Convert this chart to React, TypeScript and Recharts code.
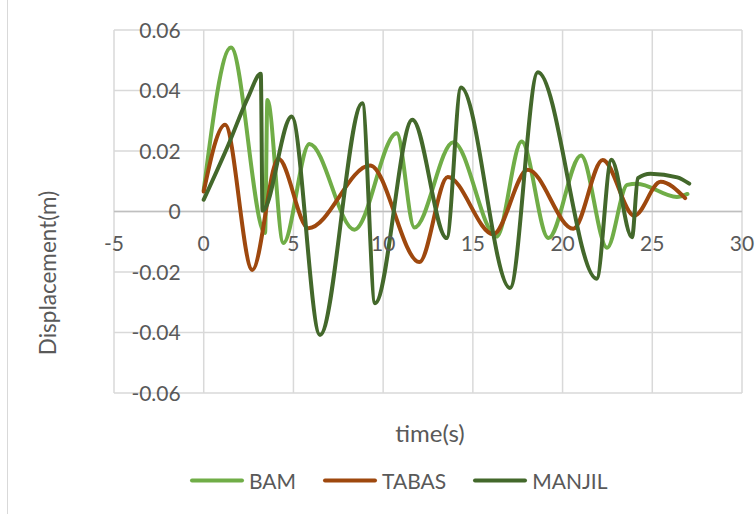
import React from "react";
import { CartesianGrid, Line, LineChart, ReferenceLine, XAxis, YAxis } from "recharts";

// values
const BAM_T = [0, 1.52, 3.42, 3.55, 4.44, 5.89, 8.4, 10.76, 11.74, 13.91, 16.33, 17.72, 19.21, 21.03, 22.48, 23.6, 24.14, 26.37, 26.96];
const BAM_V = [0.007, 0.0542, -0.0071, 0.0369, -0.0104, 0.0223, -0.006, 0.0259, -0.0053, 0.0229, -0.0083, 0.0231, -0.0088, 0.0185, -0.012, 0.0088, 0.0092, 0.0048, 0.0058];

const TABAS_T = [0, 1.19, 2.71, 4.16, 5.83, 9.27, 12.02, 13.6, 16.14, 18.06, 20.6, 22.24, 24.0, 25.46, 26.83];
const TABAS_V = [0.0066, 0.0287, -0.0193, 0.0174, -0.0055, 0.0152, -0.0167, 0.0114, -0.0075, 0.0138, -0.0057, 0.017, -0.0014, 0.0098, 0.0044];

const MANJIL_T = [0, 1.37, 2.49, 3.18, 3.28, 4.9, 6.48, 8.84, 9.55, 11.63, 13.54, 14.34, 17.07, 18.62, 21.9, 22.72, 23.87, 24.2, 24.9, 26.4, 27.06];
const MANJIL_V = [0.0039, 0.022, 0.038, 0.0455, 0.0003, 0.0314, -0.0408, 0.0358, -0.0303, 0.0303, -0.0088, 0.041, -0.0253, 0.046, -0.0222, 0.0171, -0.0085, 0.011, 0.0125, 0.0113, 0.0092];

const X_TICKS = [-5, 0, 5, 10, 15, 20, 25, 30];
const Y_TICKS = [-0.06, -0.04, -0.02, 0, 0.02, 0.04, 0.06];

const SERIES = [
  { name: "BAM", color: "#70AD47", t: BAM_T, v: BAM_V },
  { name: "TABAS", color: "#9E480E", t: TABAS_T, v: TABAS_V },
  { name: "MANJIL", color: "#43682B", t: MANJIL_T, v: MANJIL_V },
];

const W = 755;
const H = 514;
const M = { top: 30, right: 13, bottom: 120, left: 113 };
const PLOT_W = W - M.left - M.right - 1;
const PLOT_H = H - M.top - M.bottom - 1;
const ZERO_Y = M.top + PLOT_H / 2;
const AXIS_X = M.left + 1 + (PLOT_W * 5) / 35;

const FONT = "Lato, 'Open Sans', sans-serif";
const TEXT = "#595959";

function zip(t: number[], v: number[]) {
  return t.map((x, i) => ({ t: x, v: v[i] }));
}

function fmtY(v: number) {
  if (Math.abs(v) < 1e-9) return "0";
  return v.toFixed(2);
}

function XTick(props: any) {
  const { x, payload } = props;
  return (
    <text x={x} y={ZERO_Y + 39} textAnchor="middle" fill={TEXT} fontSize={21} fontFamily={FONT}>
      {payload.value}
    </text>
  );
}

function YTick(props: any) {
  const { y, payload } = props;
  return (
    <text x={AXIS_X - 23} y={y + 7.5} textAnchor="end" fill={TEXT} fontSize={21} fontFamily={FONT}>
      {fmtY(payload.value)}
    </text>
  );
}

export default function App() {
  return (
    <div style={{ position: "fixed", left: 0, top: 0, width: W, height: H, background: "#fff", fontFamily: FONT }}>
      <div style={{ position: "absolute", left: 7, top: 0, width: 1, height: H, background: "#D9D9D9" }} />
      <LineChart width={W} height={H} margin={M}>
        <CartesianGrid stroke="#D9D9D9" strokeWidth={1.5} />
        <XAxis
          type="number"
          dataKey="t"
          domain={[-5, 30]}
          ticks={X_TICKS}
          interval={0}
          allowDataOverflow
          height={1}
          axisLine={false}
          tickLine={false}
          tick={XTick}
        />
        <YAxis
          type="number"
          dataKey="v"
          domain={[-0.06, 0.06]}
          ticks={Y_TICKS}
          interval={0}
          allowDataOverflow
          width={1}
          axisLine={false}
          tickLine={false}
          tick={YTick}
        />
        <ReferenceLine y={0} stroke="#BFBFBF" strokeWidth={1.5} />
        {SERIES.map((s) => (
          <Line
            key={s.name}
            data={zip(s.t, s.v)}
            dataKey="v"
            name={s.name}
            type="monotone"
            stroke={s.color}
            strokeWidth={4}
            strokeLinecap="round"
            dot={false}
            isAnimationActive={false}
          />
        ))}
      </LineChart>

      <div
        style={{
          position: "absolute",
          left: 47,
          top: 273,
          transform: "translate(-50%, -50%) rotate(-90deg)",
          whiteSpace: "nowrap",
          fontSize: 22.5,
          color: TEXT,
        }}
      >
        Displacement(m)
      </div>
      <div
        style={{
          position: "absolute",
          left: 430,
          top: 432,
          transform: "translate(-50%, -50%)",
          whiteSpace: "nowrap",
          fontSize: 24,
          color: TEXT,
        }}
      >
        time(s)
      </div>

      <div
        style={{
          position: "absolute",
          left: 190,
          top: 480,
          transform: "translateY(-50%)",
          display: "flex",
          alignItems: "center",
          gap: 27,
          fontSize: 21,
          color: TEXT,
        }}
      >
        {SERIES.map((s) => (
          <div key={s.name} style={{ display: "flex", alignItems: "center", gap: 5 }}>
            <div style={{ width: 54, height: 4, borderRadius: 2, background: s.color }} />
            <span>{s.name}</span>
          </div>
        ))}
      </div>
    </div>
  );
}
